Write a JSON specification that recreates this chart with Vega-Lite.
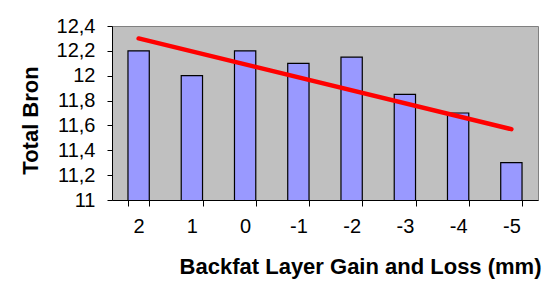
{
  "$schema": "https://vega.github.io/schema/vega-lite/v6.json",
  "autosize": "none",
  "width": 426,
  "height": 174,
  "padding": {"left": 112, "top": 26, "right": 11, "bottom": 86},
  "background": "white",
  "config": {
    "locale": {"number": {"decimal": ",", "thousands": ".", "grouping": [3], "currency": ["", " €"]}},
    "view": {"fill": "#C0C0C0", "stroke": "#808080", "strokeWidth": 1},
    "font": "Liberation Sans"
  },
  "datasets": {
    "bars": [
      {"gain": "2", "bron": 12.2},
      {"gain": "1", "bron": 12.0},
      {"gain": "0", "bron": 12.2},
      {"gain": "-1", "bron": 12.1},
      {"gain": "-2", "bron": 12.15},
      {"gain": "-3", "bron": 11.85},
      {"gain": "-4", "bron": 11.7},
      {"gain": "-5", "bron": 11.3}
    ],
    "trend": [
      {"gain": "2", "bron": 12.3},
      {"gain": "-5", "bron": 11.57}
    ]
  },
  "encoding": {
    "x": {
      "field": "gain",
      "type": "nominal",
      "sort": null,
      "scale": {"domain": ["2", "1", "0", "-1", "-2", "-3", "-4", "-5"], "paddingInner": 0.6, "paddingOuter": 0.3},
      "axis": {
        "title": "Backfat Layer Gain and Loss (mm)",
        "domainColor": "black",
        "domainWidth": 1,
        "tickColor": "black",
        "tickSize": 6,
        "tickBand": "extent",
        "labelAngle": 0,
        "labelFontSize": 20,
        "labelColor": "black",
        "labelPadding": 10,
        "titleFontSize": 22,
        "titleFontWeight": "bold",
        "titleColor": "black",
        "titleAlign": "right",
        "titleAnchor": "end",
        "titleX": 429,
        "titleY": 73,
        "titleBaseline": "alphabetic"
      }
    },
    "y": {
      "field": "bron",
      "type": "quantitative",
      "scale": {"domain": [11, 12.4], "zero": false},
      "axis": {
        "title": "Total Bron",
        "values": [11, 11.2, 11.4, 11.6, 11.8, 12, 12.2, 12.4],
        "format": ".1~f",
        "grid": false,
        "domainColor": "black",
        "tickColor": "black",
        "tickSize": 5,
        "labelFontSize": 20,
        "labelColor": "black",
        "labelPadding": 12,
        "labelFlush": false,
        "labelOverlap": false,
        "titleFontSize": 22,
        "titleFontWeight": "bold",
        "titleColor": "black",
        "titleAngle": -90,
        "titleAlign": "center",
        "titleBaseline": "alphabetic",
        "titleX": -75,
        "titleY": 94
      }
    }
  },
  "layer": [
    {
      "data": {"name": "bars"},
      "mark": {"type": "bar", "fill": "#9999FF", "stroke": "black", "strokeWidth": 1.2, "clip": true}
    },
    {
      "data": {"name": "trend"},
      "mark": {"type": "line", "color": "#FF0000", "strokeWidth": 4.5, "strokeCap": "round"}
    }
  ]
}
